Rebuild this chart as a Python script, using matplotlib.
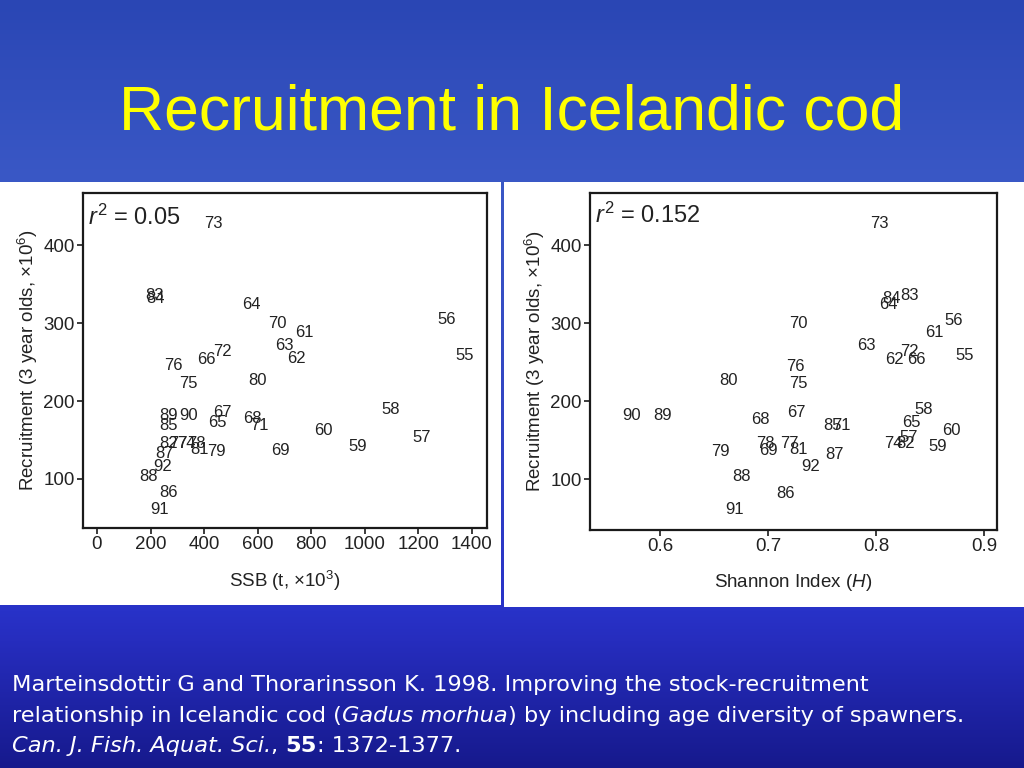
import matplotlib
matplotlib.use('Agg')
import matplotlib.pyplot as plt
import numpy as np
from matplotlib.patches import Rectangle

plt.rcParams['mathtext.fontset'] = 'custom'
plt.rcParams['mathtext.rm'] = 'Liberation Sans'
plt.rcParams['mathtext.it'] = 'Liberation Sans:italic'
plt.rcParams['mathtext.bf'] = 'Liberation Sans:bold'

# ---------------- data ----------------
years = ['55', '56', '57', '58', '59', '60', '61', '62', '63', '64',
         '65', '66', '67', '68', '69', '70', '71', '72', '73', '74',
         '75', '76', '77', '78', '79', '80', '81', '82', '83', '84',
         '85', '86', '87', '88', '89', '90', '91', '92']
recruitment = [258, 304, 153, 189, 142, 162, 288, 254, 271, 324,
               172, 253, 185, 177, 136, 300, 169, 263, 428, 145,
               223, 245, 145, 145, 135, 226, 138, 145, 336, 332,
               169, 82, 132, 103, 181, 182, 61, 116]
ssb = [1374, 1306, 1212, 1096, 974, 847, 776, 745, 698, 577,
       451, 409, 470, 582, 686, 674, 608, 470, 433, 335,
       340, 285, 304, 370, 447, 601, 384, 266, 216, 220,
       269, 269, 254, 194, 269, 343, 235, 245]
shannon = [0.882, 0.872, 0.830, 0.844, 0.857, 0.870, 0.854, 0.817, 0.791, 0.811,
           0.833, 0.837, 0.726, 0.693, 0.700, 0.728, 0.768, 0.831, 0.803, 0.816,
           0.728, 0.725, 0.720, 0.698, 0.656, 0.663, 0.728, 0.827, 0.831, 0.814,
           0.760, 0.716, 0.762, 0.675, 0.6025, 0.574, 0.669, 0.739]
ssb_ticks = [0, 200, 400, 600, 800, 1000, 1200, 1400]
h_ticks = [0.6, 0.7, 0.8, 0.9]
r_ticks = [100, 200, 300, 400]

title = 'Recruitment in Icelandic cod'

W, H = 1024, 768
fig = plt.figure(figsize=(W / 100, H / 100), dpi=100)

# ---------------- background ----------------
bg = fig.add_axes([0, 0, 1, 1], zorder=-10)
ys = np.array([0, 180, 400, 610, 640, 768])
cols = np.array([[42, 70, 180], [58, 88, 198], [50, 70, 195],
                 [40, 50, 200], [38, 45, 190], [22, 25, 140]]) / 255.0
yy = np.arange(H)
grad = np.stack([np.interp(yy, ys, cols[:, i]) for i in range(3)], axis=-1)
bg.imshow(grad[:, None, :], aspect='auto', extent=[0, 1, 0, 1], origin='upper')
bg.set_axis_off()

def fx(px):
    return px / W

def fy(py):
    return 1 - py / H

# white panels
fig.patches.append(Rectangle((fx(0), fy(605)), fx(501), (605 - 182) / H,
                             transform=fig.transFigure, facecolor='white',
                             edgecolor='none', zorder=-5))
fig.patches.append(Rectangle((fx(504), fy(607)), fx(520), (607 - 182) / H,
                             transform=fig.transFigure, facecolor='white',
                             edgecolor='none', zorder=-5))

FONT = 'Liberation Sans'
TXT = '#222222'

def make_axes(l, r, t, b):
    return fig.add_axes([fx(l), fy(b), (r - l) / W, (b - t) / H])

def style(ax):
    for s in ax.spines.values():
        s.set_linewidth(1.6)
        s.set_color('#1a1a1a')
    ax.tick_params(direction='out', length=4, width=1.2, colors='#1a1a1a',
                   labelsize=13.5, labelcolor=TXT, pad=2)
    for lab in ax.get_xticklabels() + ax.get_yticklabels():
        lab.set_fontfamily(FONT)
    ax.set_facecolor('white')

# ---------------- left panel ----------------
ax1 = make_axes(83, 487, 193, 528)
ax1.set_xlim(-52, 1456)
ax1.set_ylim(37, 467)
ax1.set_xticks(ssb_ticks)
ax1.set_yticks(r_ticks)
style(ax1)
for yr, xv, yv in zip(years, ssb, recruitment):
    ax1.text(xv, yv, yr, ha='center', va='center', fontsize=12,
             family=FONT, color=TXT)
ax1.text(0.012, 0.965, r'$r^2$ = 0.05', transform=ax1.transAxes,
         ha='left', va='top', fontsize=17, family=FONT, color=TXT)
ax1.set_xlabel(r'SSB (t, $\times$10$^3$)', fontsize=13.5, family=FONT,
               color=TXT, labelpad=11)
ax1.set_ylabel(r'Recruitment (3 year olds, $\times$10$^6$)', fontsize=13.5,
               family=FONT, color=TXT, labelpad=2)

# ---------------- right panel ----------------
ax2 = make_axes(590, 997, 193, 530)
ax2.set_xlim(0.5352, 0.912)
ax2.set_ylim(34.6, 467)
ax2.set_xticks(h_ticks)
ax2.set_xticklabels([f'{t:.1f}' for t in h_ticks])
ax2.set_yticks(r_ticks)
style(ax2)
for yr, xv, yv in zip(years, shannon, recruitment):
    ax2.text(xv, yv, yr, ha='center', va='center', fontsize=12,
             family=FONT, color=TXT)
ax2.text(0.012, 0.97, r'$r^2$ = 0.152', transform=ax2.transAxes,
         ha='left', va='top', fontsize=17, family=FONT, color=TXT)
ax2.set_xlabel(r'Shannon Index ($H$)', fontsize=13.5, family=FONT,
               color=TXT, labelpad=12)
ax2.set_ylabel(r'Recruitment (3 year olds, $\times$10$^6$)', fontsize=13.5,
               family=FONT, color=TXT, labelpad=2)

# ---------------- title ----------------
fig.text(0.5, fy(113), title, ha='center', va='center', fontsize=45,
         family=FONT, color='#FFFF00')

# ---------------- citation ----------------
CF = 'DejaVu Sans'
CS = 16.2
renderer = fig.canvas.get_renderer()

def draw_line(pieces, x0, y):
    x = x0
    for txt, kw in pieces:
        t = fig.text(fx(x), fy(y), txt, ha='left', va='baseline', fontsize=CS,
                     family=CF, color='white', **kw)
        bb = t.get_window_extent(renderer=renderer)
        x += bb.width

draw_line([('Marteinsdottir G and Thorarinsson K. 1998. Improving the stock-recruitment', {})], 12, 691)
draw_line([('relationship in Icelandic cod (', {}), ('Gadus morhua', {'style': 'italic'}),
           (') by including age diversity of spawners.', {})], 12, 722)
draw_line([('Can. J. Fish. Aquat. Sci.', {'style': 'italic'}), (', ', {}),
           ('55', {'weight': 'bold'}), (': 1372-1377.', {})], 12, 752)

fig.savefig('out.png', dpi=100)
